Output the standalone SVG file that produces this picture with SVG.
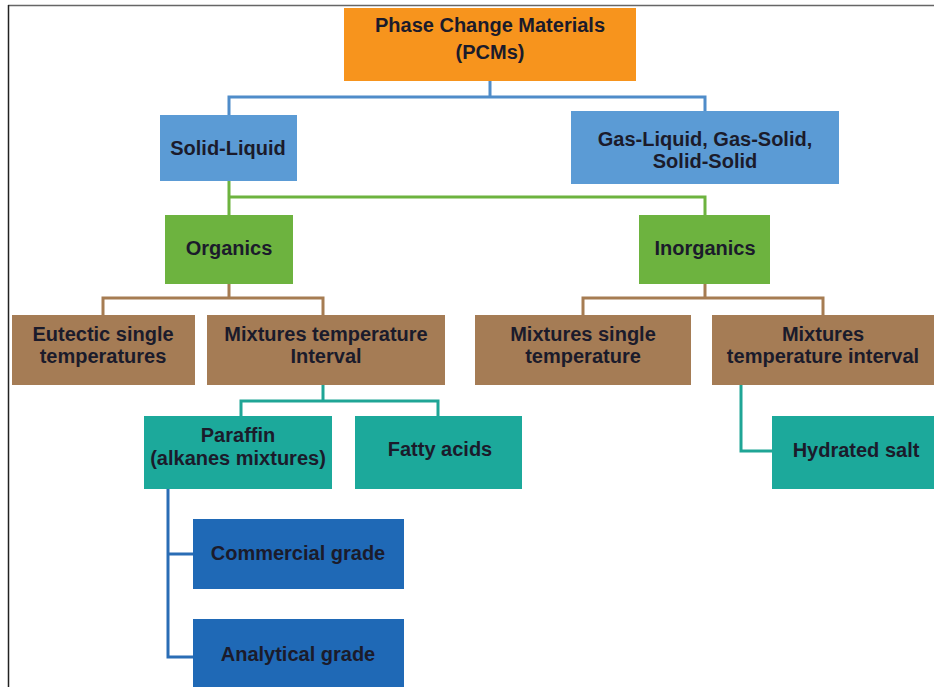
<svg xmlns="http://www.w3.org/2000/svg" width="934" height="687" viewBox="0 0 934 687">
<style>
text{font-family:"Liberation Sans",Arial,sans-serif;font-weight:bold;font-size:20px;fill:#1b1b2b;text-anchor:middle}
.c{fill:none;stroke-width:3}
.cb{stroke:#4f8cc9}.cg{stroke:#6db33f}.cr{stroke:#a67c52}.ct{stroke:#1fa596}.cd{stroke:#2a6db5}
.orange{fill:#f7941d}.blue{fill:#5b9bd5}.green{fill:#6db33f}.brown{fill:#a57c55}.teal{fill:#1ca99b}.dblue{fill:#1f69b6}
</style>
<rect width="934" height="687" fill="#fff"/>
<line x1="8" y1="5.5" x2="934" y2="5.5" stroke="#666" stroke-width="1.5"/>
<line x1="8.5" y1="5" x2="8.5" y2="687" stroke="#222" stroke-width="1.5"/>
<g id="connectors">
<path class="c cb" d="M490 81V97M229 115V97H705V111"/>
<path class="c cg" d="M229 181V197H705V215M229 197V215"/>
<path class="c cr" d="M229 284V298M103 315V298H323V315M705 284V298M583 315V298H823V315"/>
<path class="c ct" d="M323 385V401M241 416V401H438V416M741 385V451H772"/>
<path class="c cd" d="M168 489V657H193M168 554H193"/>
</g>
<g id="pcm"><rect class="orange" x="344" y="8" width="292" height="73"/><text x="490" y="32">Phase Change Materials</text><text x="490" y="59">(PCMs)</text></g>
<g id="solid-liquid"><rect class="blue" x="160" y="115" width="137" height="66"/><text x="228" y="155">Solid-Liquid</text></g>
<g id="gas"><rect class="blue" x="571" y="111" width="268" height="73"/><text x="705" y="146">Gas-Liquid, Gas-Solid,</text><text x="705" y="168">Solid-Solid</text></g>
<g id="organics"><rect class="green" x="165" y="215" width="128" height="69"/><text x="229" y="255">Organics</text></g>
<g id="inorganics"><rect class="green" x="639" y="215" width="131" height="69"/><text x="705" y="255">Inorganics</text></g>
<g id="eutectic"><rect class="brown" x="12" y="315" width="183" height="70"/><text x="103" y="341">Eutectic single</text><text x="103" y="363">temperatures</text></g>
<g id="mix-interval"><rect class="brown" x="207" y="315" width="238" height="70"/><text x="326" y="341">Mixtures temperature</text><text x="326" y="363">Interval</text></g>
<g id="mix-single"><rect class="brown" x="475" y="315" width="216" height="70"/><text x="583" y="341">Mixtures single</text><text x="583" y="363">temperature</text></g>
<g id="mix-interval2"><rect class="brown" x="712" y="315" width="222" height="70"/><text x="823" y="341">Mixtures</text><text x="823" y="363">temperature interval</text></g>
<g id="paraffin"><rect class="teal" x="144" y="416" width="188" height="73"/><text x="238" y="442">Paraffin</text><text x="238" y="465">(alkanes mixtures)</text></g>
<g id="fatty"><rect class="teal" x="355" y="416" width="167" height="73"/><text x="440" y="456">Fatty acids</text></g>
<g id="hydrated"><rect class="teal" x="772" y="416" width="162" height="73"/><text x="856" y="457">Hydrated salt</text></g>
<g id="commercial"><rect class="dblue" x="193" y="519" width="211" height="70"/><text x="298" y="560">Commercial grade</text></g>
<g id="analytical"><rect class="dblue" x="193" y="619" width="211" height="70"/><text x="298" y="661">Analytical grade</text></g>
</svg>
